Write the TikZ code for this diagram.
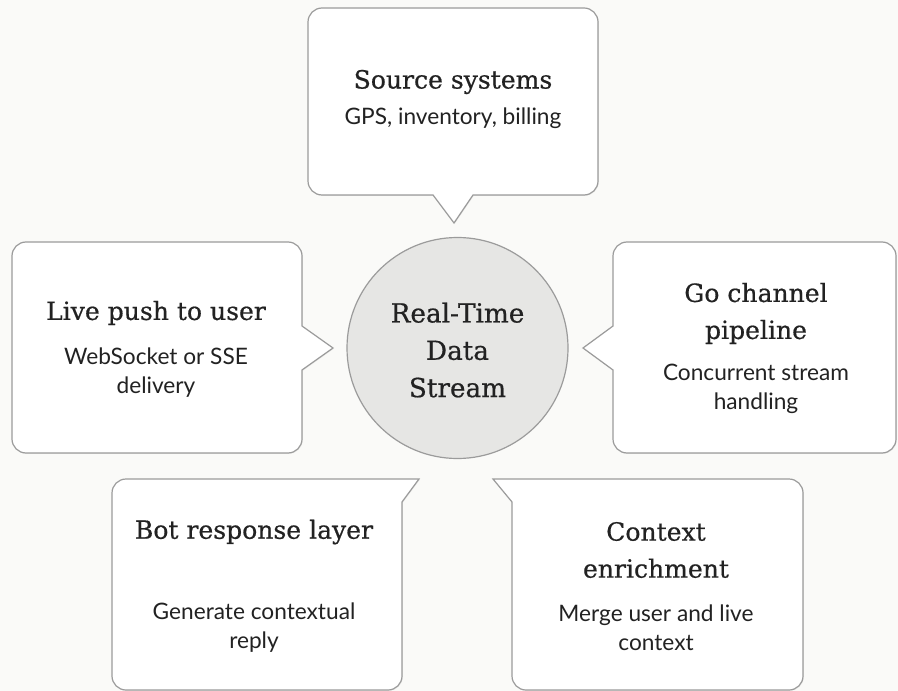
\documentclass[tikz,border=0pt]{standalone}
\usepackage{fontspec}
\setmainfont{Lato}
\newfontfamily\headfont[FakeBold=0.6]{DejaVu Serif}
\usepackage{tikz}
\usetikzlibrary{shadows}

\definecolor{pagebg}{RGB}{250,250,248}
\definecolor{bubbleline}{RGB}{155,155,155}
\definecolor{hubfill}{RGB}{230,230,228}
\definecolor{inkdark}{RGB}{34,34,34}

\begin{document}
\begin{tikzpicture}[x=0.75pt,y=0.75pt,yscale=-1,xscale=1,
  bubble/.style={draw=bubbleline,fill=white,line width=0.9,drop shadow={opacity=0.12,shadow xshift=0.6pt,shadow yshift=-0.6pt}},
  headtext/.style={text=inkdark,align=center,inner sep=0.75pt,font=\headfont\fontsize{18.8}{27.75}\selectfont},
  hubtext/.style={text=inkdark,align=center,inner sep=0.75pt,font=\headfont\fontsize{19.7}{28}\selectfont},
  subtext/.style={text=inkdark,align=center,inner sep=0.75pt,font=\fontsize{17}{21.6}\selectfont}]
%set diagram left start at 0, and has height of 691
\fill [pagebg] (0,0) rectangle (898,691);
\useasboundingbox (0,0) rectangle (898,691);

%Shape: Callout [id:source]
\draw [bubble] (322,8) -- (584,8) .. controls (591.7,8) and (598,14.3) .. (598,22) -- (598,181) .. controls (598,188.7) and (591.7,195) .. (584,195) -- (473,195) -- (454,223) -- (433,195) -- (322,195) .. controls (314.3,195) and (308,188.7) .. (308,181) -- (308,22) .. controls (308,14.3) and (314.3,8) .. (322,8) -- cycle ;
%Shape: Callout [id:push]
\draw [bubble] (26,242) -- (288,242) .. controls (295.7,242) and (302,248.3) .. (302,256) -- (302,326) -- (333,348) -- (302,370) -- (302,439) .. controls (302,446.7) and (295.7,453) .. (288,453) -- (26,453) .. controls (18.3,453) and (12,446.7) .. (12,439) -- (12,256) .. controls (12,248.3) and (18.3,242) .. (26,242) -- cycle ;
%Shape: Callout [id:pipeline]
\draw [bubble] (627,242) -- (882,242) .. controls (889.7,242) and (896,248.3) .. (896,256) -- (896,439) .. controls (896,446.7) and (889.7,453) .. (882,453) -- (627,453) .. controls (619.3,453) and (613,446.7) .. (613,439) -- (613,370) -- (583,348) -- (613,326) -- (613,256) .. controls (613,248.3) and (619.3,242) .. (627,242) -- cycle ;
%Shape: Callout [id:botreply]
\draw [bubble] (126,479) -- (419,479) -- (402,502) -- (402,676) .. controls (402,683.7) and (395.7,690) .. (388,690) -- (126,690) .. controls (118.3,690) and (112,683.7) .. (112,676) -- (112,493) .. controls (112,485.3) and (118.3,479) .. (126,479) -- cycle ;
%Shape: Callout [id:enrich]
\draw [bubble] (493,479) -- (789,479) .. controls (796.7,479) and (803,485.3) .. (803,493) -- (803,676) .. controls (803,683.7) and (796.7,690) .. (789,690) -- (526,690) .. controls (518.3,690) and (512,683.7) .. (512,676) -- (512,502) -- cycle ;
%Shape: Circle [id:hub]
\draw [draw=bubbleline,fill=hubfill,line width=0.9] (457.5,348) circle [radius=110.5] ;

% Text Node
\node [hubtext] (hubText) at (457.5,350) {Real-Time\\Data\\Stream};
% Text Node
\node [headtext] (srcTitle) at (453,82) {Source systems};
\node [subtext] (srcSub) at (453,118) {GPS, inventory, billing};
% Text Node
\node [headtext] (pushTitle) at (156,313) {Live push to user};
\node [subtext] (pushSub) at (156,372.5) {WebSocket or SSE\\delivery};
% Text Node
\node [headtext] (pipeTitle) at (756,313.5) {Go channel\\pipeline};
\node [subtext] (pipeSub) at (756,389) {Concurrent stream\\handling};
% Text Node
\node [headtext] (botTitle) at (254,532) {Bot response layer};
\node [subtext] (botSub) at (254,627.5) {Generate contextual\\reply};
% Text Node
\node [headtext] (ctxTitle) at (656,550) {Context\\enrichment};
\node [subtext] (ctxSub) at (656,627.5) {Merge user and live\\context};

\end{tikzpicture}
\end{document}
